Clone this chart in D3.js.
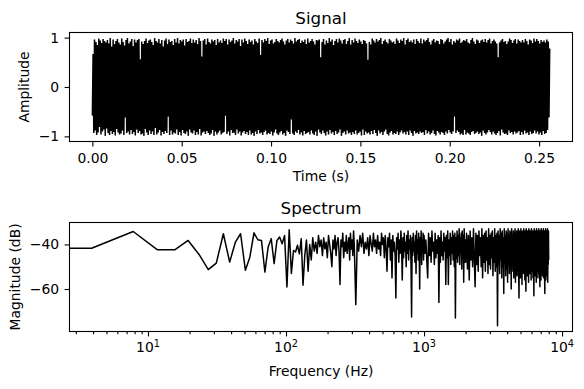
<!DOCTYPE html>
<html>
<head>
<meta charset="utf-8">
<script src="https://cdn.jsdelivr.net/npm/d3@7"></script>
<style>
body { margin: 0; background: #fff; }
svg text { font-family: "DejaVu Sans", sans-serif; fill: #000; }
</style>
</head>
<body>
<div id="chart"></div>
<script>
//data: signal peaks (alternating max/min), 0 .. 0.256 s
var tEnd = 0.255937;
var signal = [
 -0.58,0.67,-0.93,0.96,-0.88,0.91,-0.97,0.85,-0.92,0.98,-0.81,0.94,-0.96,0.89,-0.9,0.97,-0.86,0.93,-0.99,0.9,
 -0.84,0.95,-0.93,0.88,-0.97,0.99,-0.89,0.82,-0.95,0.96,-0.91,0.87,-0.98,0.93,-0.85,0.97,-0.92,0.9,-0.96,0.86,
 -0.94,0.98,-0.88,0.91,-0.97,0.84,-0.62,0.95,-0.93,0.99,-0.9,0.88,-0.96,0.92,-0.87,0.97,-0.95,0.83,-0.91,0.96,
 -0.98,0.9,-0.86,0.95,-0.93,0.97,-0.89,0.56,-0.96,0.92,-0.94,0.87,-0.99,0.93,-0.85,0.98,-0.92,0.89,-0.97,0.94,
 -0.88,0.96,-0.95,0.91,-0.9,0.85,-0.97,0.99,-0.83,0.93,-0.96,0.9,-0.92,0.97,-0.87,0.88,-0.98,0.95,-0.91,0.82,
 -0.95,0.94,-0.89,0.98,-0.93,0.87,-0.6,0.96,-0.97,0.91,-0.88,0.93,-0.96,0.85,-0.92,0.97,-0.94,0.9,-0.86,0.99,
 -0.97,0.88,-0.91,0.95,-0.98,0.92,-0.87,0.96,-0.93,0.84,-0.95,0.97,-0.9,0.91,-0.99,0.93,-0.86,0.98,-0.92,0.89,
 -0.94,0.96,-0.88,0.9,-0.97,0.95,-0.91,0.87,-0.96,0.99,-0.85,0.93,-0.98,0.62,-0.92,0.94,-0.9,0.97,-0.95,0.86,
 -0.89,0.98,-0.93,0.91,-0.97,0.88,-0.94,0.96,-0.87,0.92,-0.99,0.95,-0.9,0.85,-0.96,0.97,-0.92,0.9,-0.88,0.94,
 -0.96,0.89,-0.93,0.98,-0.91,0.93,-0.58,0.97,-0.95,0.86,-0.9,0.96,-0.98,0.91,-0.87,0.94,-0.93,0.99,-0.92,0.88,
 -0.97,0.95,-0.86,0.92,-0.94,0.97,-0.9,0.83,-0.98,0.96,-0.92,0.9,-0.89,0.98,-0.95,0.93,-0.91,0.87,-0.97,0.96,
 -0.88,0.91,-0.96,0.94,-0.93,0.86,-0.99,0.97,-0.9,0.92,-0.95,0.89,-0.87,0.98,-0.94,0.65,-0.92,0.95,-0.97,0.9,
 -0.91,0.97,-0.88,0.93,-0.96,0.99,-0.93,0.87,-0.95,0.94,-0.9,0.96,-0.98,0.88,-0.92,0.91,-0.86,0.97,-0.94,0.93,
 -0.97,0.9,-0.92,0.95,-0.89,0.98,-0.96,0.92,-0.93,0.86,-0.99,0.94,-0.88,0.97,-0.91,0.9,-0.95,0.96,-0.66,0.93,
 -0.94,0.88,-0.97,0.99,-0.9,0.92,-0.93,0.95,-0.87,0.97,-0.96,0.89,-0.92,0.94,-0.98,0.91,-0.89,0.96,-0.95,0.87,
 -0.93,0.98,-0.91,0.9,-0.96,0.93,-0.88,0.97,-0.94,0.92,-0.97,0.86,-0.9,0.95,-0.99,0.94,-0.86,0.96,-0.92,0.6,
 -0.95,0.91,-0.88,0.97,-0.93,0.86,-0.98,0.94,-0.9,0.89,-0.96,0.99,-0.87,0.92,-0.94,0.96,-0.91,0.85,-0.97,0.93,
 -0.89,0.97,-0.95,0.9,-0.92,0.98,-0.86,0.94,-0.99,0.88,-0.93,0.95,-0.9,0.97,-0.96,0.87,-0.88,0.93,-0.94,0.99,
 -0.92,0.86,-0.97,0.95,-0.91,0.9,-0.95,0.98,-0.88,0.93,-0.96,0.89,-0.93,0.96,-0.9,0.92,-0.98,0.87,-0.86,0.95,
 -0.97,0.93,-0.9,0.88,-0.94,0.55,-0.92,0.91,-0.96,0.86,-0.89,0.98,-0.95,0.94,-0.87,0.9,-0.93,0.97,-0.99,0.92,
 -0.88,0.95,-0.94,0.99,-0.91,0.87,-0.97,0.93,-0.9,0.96,-0.86,0.91,-0.95,0.88,-0.98,0.97,-0.92,0.94,-0.89,0.9,
 -0.96,0.92,-0.93,0.87,-0.95,0.98,-0.9,0.94,-0.97,0.89,-0.92,0.96,-0.88,0.93,-0.94,0.99,-0.91,0.86,-0.96,0.95,
 -0.9,0.98,-0.97,0.91,-0.88,0.94,-0.93,0.9,-0.99,0.96,-0.89,0.87,-0.94,0.97,-0.92,0.93,-0.95,0.89,-0.9,0.98,
 -0.93,0.88,-0.91,0.96,-0.97,0.92,-0.87,0.95,-0.94,0.99,-0.9,0.91,-0.96,0.86,-0.93,0.94,-0.88,0.97,-0.95,0.9,
 -0.98,0.94,-0.89,0.93,-0.92,0.87,-0.96,0.97,-0.91,0.95,-0.93,0.88,-0.97,0.92,-0.9,0.96,-0.94,0.99,-0.87,0.91,
 -0.92,0.97,-0.95,0.86,-0.9,0.93,-0.6,0.9,-0.93,0.96,-0.88,0.94,-0.91,0.98,-0.96,0.89,-0.94,0.92,-0.97,0.95,
 -0.87,0.93,-0.96,0.97,-0.92,0.9,-0.94,0.88,-0.97,0.95,-0.91,0.99,-0.89,0.92,-0.95,0.87,-0.93,0.96,-0.9,0.94,
 -0.95,0.89,-0.92,0.94,-0.99,0.96,-0.88,0.91,-0.93,0.97,-0.96,0.9,-0.92,0.95,-0.87,0.98,-0.91,0.88,-0.96,0.93,
 -0.9,0.96,-0.94,0.92,-0.97,0.88,-0.93,0.6,-0.89,0.9,-0.98,0.94,-0.86,0.97,-0.92,0.91,-0.95,0.93,-0.94,0.87,
 -0.97,0.92,-0.88,0.98,-0.93,0.95,-0.91,0.89,-0.96,0.94,-0.9,0.97,-0.94,0.88,-0.92,0.96,-0.89,0.93,-0.97,0.9,
 -0.91,0.95,-0.96,0.9,-0.88,0.97,-0.94,0.93,-0.92,0.86,-0.97,0.96,-0.9,0.94,-0.95,0.89,-0.93,0.98,-0.88,0.92,
 -0.94,0.97,-0.9,0.93,-0.96,0.88,-0.92,0.95,-0.97,0.91,-0.89,0.94,-0.95,0.9,-0.93,0.96,-0.87,0.92,-0.62,0.78
];
var timeTicks = [0, 0.05, 0.1, 0.15, 0.2, 0.25];
var ampTicks = [-1, 0, 1];

//spectrum in dB, fft bin width 16000/4096 Hz
var binHz = 3.90625;
// bins 0..80, every bin
var specLow = [
 -41.7,-41.7,-34.2,-42.4,-42.4,-38.2,-44.5,-51.3,-48.4,-35.2,
 -47.9,-39.0,-35.2,-51.6,-45.7,-34.8,-37.9,-38.2,-52.4,-41.2,
 -37.4,-48.6,-38.2,-36.7,-39.7,-36.0,-59.1,-33.4,-53.0,-42.7,
 -43.4,-40.4,-44.2,-37.4,-58.3,-45,-38,-52,-40,-47,
 -37,-43,-39,-44,-36,-41,-38,-45,-37,-42,
 -39,-46,-36,-40,-44,-50,-38,-42,-36,-45,
 -39,-37,-43,-58,-38,-41,-35,-46,-39,-43,
 -36,-44,-40,-37,-47,-35,-42,-38,-45,-34,-41
];
// bins 82..254, every 2nd bin
var specMid = [
 -67,-38,-43,-36,-41,-35,-44,-39,-42,-37,-45,-36,-40,-43,-35,-41,-38,-44,-36,-42,
 -39,-45,-35,-40,-37,-46,-36,-42,-52,-37,-41,-35,-47,-38,-55,-36,-43,-39,-45,-64,
 -37,-42,-35,-48,-38,-44,-34,-41,-56,-37,-46,-35,-43,-39,-50,-36,-44,-34,-47,-38,
 -42,-36,-49,-72.5,-37,-45,-35,-43,-39,-48,-36,-53,-34,-44,-38,-47,-35,-42,-60,-37,
 -45,-34,-49,-38,-43,-35,-47
];
// bins 256..508, every 4th bin
var specUpper = [
 -36,-44,-38,-47,-55,-35,-45,-37,-48,-34,-43,-39,-49,-35,-46,-38,
 -44,-36,-66,-37,-48,-34,-45,-39,-47,-35,-43,-37,-58,-36,-46,-34,
 -58,-38,-45,-35,-49,-37,-44,-34,-47,-36,-50,-35,-73,-37,-46,-34,
 -48,-36,-45,-33,-49,-37,-44,-35,-51,-34,-46,-36,-57,-33,-48,-38
];
// bins 512..2048, every 8th bin
var specHigh = [
 -48,-35,-51,-36,-56,-34,-47,-37,
 -50,-33,-46,-59,-35,-49,-36,-52,-34,-45,-37,-50,-33,-55,-36,-48,-35,-52,-34,-47,
 -37,-53,-33,-49,-36,-51,-35,-46,-34,-54,-37,-48,-33,-52,-36,-50,-35,-76.5,-34,-49,
 -36,-53,-33,-47,-35,-55,-34,-50,-37,-62,-33,-48,-36,-54,-34,-51,-35,-57,-33,-49,
 -36,-53,-34,-50,-35,-60,-33,-52,-36,-48,-34,-55,-35,-51,-33,-57,-36,-49,-34,-54,
 -35,-50,-33,-52,-64,-34,-48,-36,-55,-33,-51,-35,-58,-34,-49,-36,-53,-33,-50,-35,
 -56,-34,-52,-61,-33,-48,-36,-54,-34,-51,-35,-57,-33,-50,-36,-53,-34,-49,-35,-56,
 -33,-52,-36,-48,-34,-55,-35,-51,-63,-33,-50,-36,-54,-34,-49,-35,-57,-33,-52,-36,
 -50,-34,-55,-35,-48,-33,-53,-36,-51,-59,-34,-49,-35,-56,-33,-52,-36,-50,-34,-54,
 -35,-48,-33,-55,-36,-51,-34,-53,-62,-35,-49,-33,-56,-36,-50,-34,-54,-35,-52,-33,
 -57,-36,-49,-34,-47
];
var freqTicks = [10, 100, 1000, 10000];
var dbTicks = [-60, -40];

var width = 584;
var height = 389;
var fs = 13.9;     // 10pt
var titleFs = 16.7; // 12pt
var minus = function(v) { return String(v).replace("-", "\u2212"); };

var svg = d3.select("#chart")
    .append("svg")
    .attr("width", width)
    .attr("height", height);

//----- upper panel: signal
var sigBox = {left: 69.5, right: 572.5, top: 32.5, bottom: 141.5};

var xT = d3.scaleLinear().domain([-0.0128, 0.2687]).range([sigBox.left, sigBox.right]);
var yT = d3.scaleLinear().domain([-1.104, 1.104]).range([sigBox.bottom, sigBox.top]);

var sigPts = signal.map(function(v, i) { return [i * tEnd / (signal.length - 1), v]; });

svg.append("path")
    .datum(sigPts)
    .attr("fill", "none")
    .attr("stroke", "#000")
    .attr("stroke-width", 1.5)
    .attr("d", d3.line().x(function(d) { return xT(d[0]); }).y(function(d) { return yT(d[1]); }));

svg.append("g")
    .attr("transform", "translate(0," + sigBox.bottom + ")")
    .call(d3.axisBottom(xT).tickValues(timeTicks).tickSize(4.9).tickPadding(7).tickFormat(d3.format(".2f")))
    .call(styleAxis);

svg.append("g")
    .attr("transform", "translate(" + sigBox.left + ",0)")
    .call(d3.axisLeft(yT).tickValues(ampTicks).tickSize(4.9).tickPadding(5.5).tickFormat(minus))
    .call(styleAxis);

frame(sigBox);

svg.append("text").attr("x", 321).attr("y", 24).attr("text-anchor", "middle")
    .style("font-size", titleFs + "px").text("Signal");
svg.append("text").attr("x", 321).attr("y", 181).attr("text-anchor", "middle")
    .style("font-size", fs + "px").text("Time (s)");
svg.append("text").attr("transform", "translate(29," + (sigBox.top + sigBox.bottom) / 2 + ") rotate(-90)")
    .attr("text-anchor", "middle").style("font-size", fs + "px").text("Amplitude");

//----- lower panel: spectrum
var specBox = {left: 69.5, right: 572.5, top: 222.5, bottom: 331.5};

var xB = d3.scaleLog().domain([2.70, 11900]).range([specBox.left, specBox.right]).clamp(true);
var yB = d3.scaleLinear().domain([-79.06, -30.16]).range([specBox.bottom, specBox.top]);

var specPts = [];
specLow.forEach(function(v, i) { specPts.push([i * binHz, v]); });
specMid.forEach(function(v, i) { specPts.push([(82 + 2 * i) * binHz, v]); });
specUpper.forEach(function(v, i) { specPts.push([(256 + 4 * i) * binHz, v]); });
specHigh.forEach(function(v, i) { specPts.push([(512 + 8 * i) * binHz, v]); });

svg.append("path")
    .datum(specPts)
    .attr("fill", "none")
    .attr("stroke", "#000")
    .attr("stroke-width", 1.5)
    .attr("stroke-linejoin", "round")
    .attr("d", d3.line().x(function(d) { return xB(d[0]); }).y(function(d) { return yB(d[1]); }));

var minorTicks = xB.ticks().filter(function(t) { return freqTicks.indexOf(t) < 0; });

svg.append("g")
    .attr("transform", "translate(0," + specBox.bottom + ")")
    .call(d3.axisBottom(xB).tickValues(minorTicks).tickSize(2.8).tickFormat(""))
    .call(styleAxis);

svg.append("g")
    .attr("transform", "translate(0," + specBox.bottom + ")")
    .call(d3.axisBottom(xB).tickValues(freqTicks).tickSize(4.9).tickFormat(""))
    .call(styleAxis);

var expLab = svg.append("g").selectAll("text")
    .data(freqTicks)
    .enter()
    .append("text")
    .attr("x", function(d) { return xB(d); })
    .attr("y", 352)
    .attr("text-anchor", "middle")
    .style("font-size", fs + "px");
expLab.append("tspan").text("10");
expLab.append("tspan").attr("dy", -5.5).style("font-size", "9.7px")
    .text(function(d) { return String(Math.round(Math.log10(d))); });

svg.append("g")
    .attr("transform", "translate(" + specBox.left + ",0)")
    .call(d3.axisLeft(yB).tickValues(dbTicks).tickSize(4.9).tickPadding(5.5).tickFormat(minus))
    .call(styleAxis);

frame(specBox);

svg.append("text").attr("x", 321).attr("y", 214).attr("text-anchor", "middle")
    .style("font-size", titleFs + "px").text("Spectrum");
svg.append("text").attr("x", 321).attr("y", 376).attr("text-anchor", "middle")
    .style("font-size", fs + "px").text("Frequency (Hz)");
svg.append("text").attr("transform", "translate(20," + (specBox.top + specBox.bottom) / 2 + ") rotate(-90)")
    .attr("text-anchor", "middle").style("font-size", fs + "px").text("Magnitude (dB)");

function styleAxis(g) {
    g.select(".domain").remove();
    g.attr("font-family", null).attr("font-size", null);
    g.selectAll("line").attr("stroke", "#000").attr("stroke-width", 1.1);
    g.selectAll("text").style("font-size", fs + "px");
}

function frame(b) {
    svg.append("rect")
        .attr("x", b.left).attr("y", b.top)
        .attr("width", b.right - b.left).attr("height", b.bottom - b.top)
        .attr("fill", "none")
        .attr("stroke", "#000")
        .attr("stroke-width", 1.1);
}
</script>
</body>
</html>
